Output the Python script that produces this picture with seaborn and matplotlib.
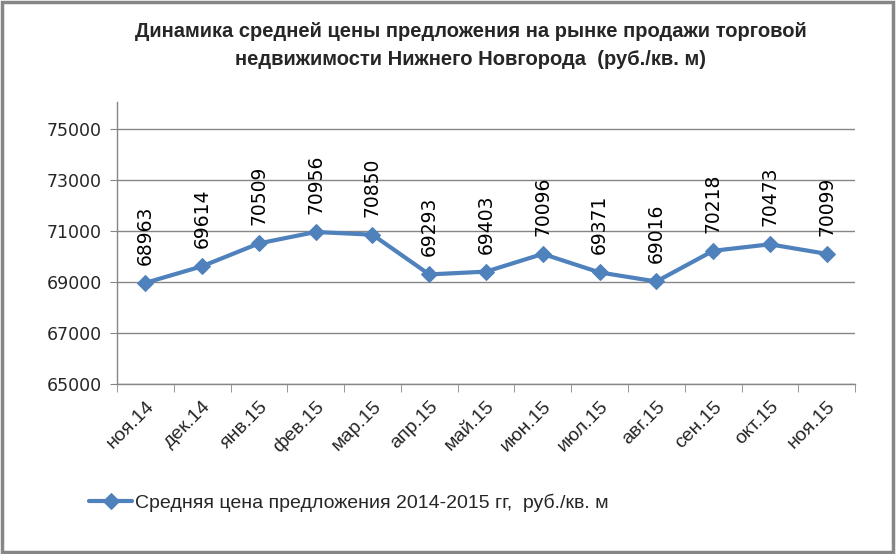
import pandas as pd
import matplotlib.pyplot as plt
import seaborn as sns
from matplotlib.patches import Rectangle
from matplotlib.ticker import FixedLocator

# Data
months = ['ноя.14', 'дек.14', 'янв.15', 'фев.15', 'мар.15', 'апр.15', 'май.15',
          'июн.15', 'июл.15', 'авг.15', 'сен.15', 'окт.15', 'ноя.15']
prices = [68963, 69614, 70509, 70956, 70850, 69293, 69403,
          70096, 69371, 69016, 70218, 70473, 70099]
y_ticks = [65000, 67000, 69000, 71000, 73000, 75000]
series_name = 'Средняя цена предложения 2014-2015 гг,  руб./кв. м'
title = ('Динамика средней цены предложения на рынке продажи торговой\n'
         'недвижимости Нижнего Новгорода  (руб./кв. м)')

df = pd.DataFrame({'Месяц': months, 'Цена': prices})

sns.set_style('white')
plt.rcParams['font.family'] = ['DejaVu Sans']
narrow = ['Liberation Sans Narrow', 'Liberation Sans', 'DejaVu Sans']

fig = plt.figure(figsize=(8.96, 5.54), dpi=100)
ax = fig.add_axes([0.1306, 0.3069, 0.8237, 0.509])

line_color = '#4F81BD'
sns.lineplot(data=df, x='Месяц', y='Цена', sort=False, ax=ax, color=line_color,
             linewidth=3, marker='D', markersize=8, markeredgecolor=line_color,
             label=series_name, legend=False)

# data labels
for i, v in enumerate(prices):
    ax.annotate(str(v), (i, v), xytext=(0, 13), textcoords='offset points',
                rotation=90, ha='center', va='bottom', fontsize=13.5, color='black')

ax.set_ylim(65000, 76050)
ax.set_xlim(-0.5, len(months) - 0.5)
ax.set_yticks(y_ticks)
ax.set_yticklabels([str(t) for t in y_ticks], fontsize=12.5)
ax.set_xticks(range(len(months)))
ax.set_xticklabels(months, rotation=45, ha='right', rotation_mode='anchor',
                   fontsize=14, family=narrow)
ax.set_xlabel('')
ax.set_ylabel('')
ax.yaxis.grid(True, color='#868686', linewidth=1)
ax.set_axisbelow(True)

for s in ['top', 'right']:
    ax.spines[s].set_visible(False)
for s in ['left', 'bottom']:
    ax.spines[s].set_color('#868686')
    ax.spines[s].set_linewidth(1)

ax.tick_params(axis='y', which='major', length=5, color='#868686', pad=6, left=True)
ax.tick_params(axis='x', which='major', length=0, pad=10)
ax.xaxis.set_minor_locator(FixedLocator([i - 0.5 for i in range(len(months) + 1)]))
ax.tick_params(axis='x', which='minor', length=6, color='#868686', bottom=True)

fig.text(0.525, 0.918, title, ha='center', va='center', fontsize=14.5,
         fontweight='bold', family=narrow, linespacing=1.65)

handles, labels = ax.get_legend_handles_labels()
fig.legend(handles, labels, loc='center left', bbox_to_anchor=(0.08, 0.092),
           frameon=False, handlelength=2.2, handletextpad=0.15,
           prop={'family': narrow, 'size': 14})

fig.patches.append(Rectangle((0.002, 0.003), 0.995, 0.993, transform=fig.transFigure,
                             fill=False, edgecolor='#868686', linewidth=2.5))

fig.savefig('out.png', dpi=100)
